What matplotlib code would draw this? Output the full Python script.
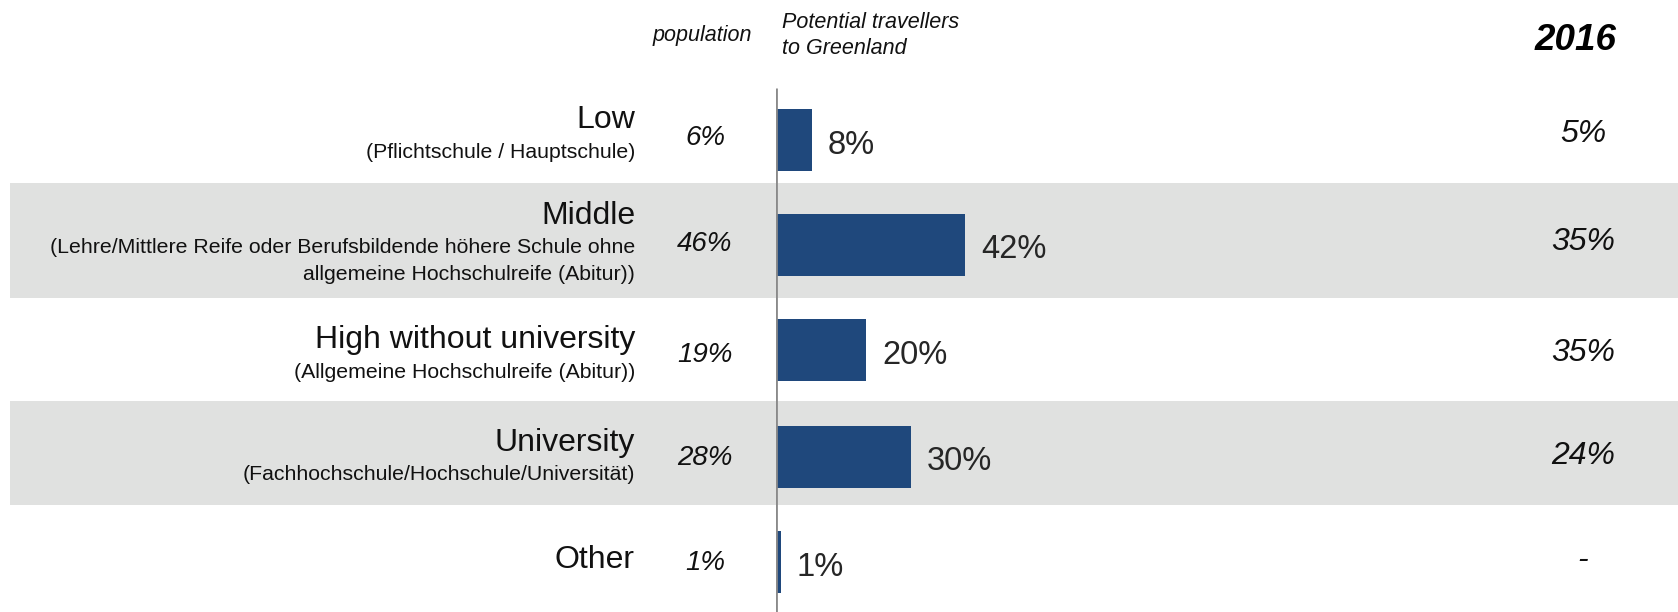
import matplotlib
matplotlib.use("Agg")
import matplotlib.pyplot as plt

plt.rcParams["font.family"] = ["Liberation Sans", "DejaVu Sans"]

# Education levels and their shares
categories = ["Low", "Middle", "High without university", "University", "Other"]
subtitles = [
    "(Pflichtschule / Hauptschule)",
    "(Lehre/Mittlere Reife oder Berufsbildende höhere Schule ohne\nallgemeine Hochschulreife (Abitur))",
    "(Allgemeine Hochschulreife (Abitur))",
    "(Fachhochschule/Hochschule/Universität)",
    "",
]
population = [6, 46, 19, 28, 1]
travellers = [8, 42, 20, 30, 1]
year_2016 = ["5%", "35%", "35%", "24%", "-"]

W, H = 1678, 612
BAR_COLOR = "#1F487C"
BAND_COLOR = "#E0E1E0"

# Row layout (pixel rows from the top of the figure)
row_edges = [79, 183, 298, 401, 505, 612]
bar_centers = [140, 245, 350, 457, 562]
name_y = [120, 216, 340, 443, 560]
sub_y = [153, 261, 372, 474, None]
pop_y = [138, 244, 355, 458, 563]
col_y = [134, 242, 353, 456, 560]
px_per_pct = 4.5
axis_x = 776

fig = plt.figure(figsize=(W / 100, H / 100), dpi=100)

# Layer for backgrounds and text, in pixel coordinates
lay = fig.add_axes([0, 0, 1, 1])
lay.set_xlim(0, W)
lay.set_ylim(H, 0)
lay.axis("off")

# Bar layer, x in percent
ax = fig.add_axes([axis_x / W, 0, (W - axis_x) / W, 1])
ax.set_xlim(0, (W - axis_x) / px_per_pct)
ax.set_ylim(H, 0)
ax.axis("off")
ax.patch.set_alpha(0)

# Alternating shaded bands
for i in (1, 3):
    lay.axhspan(row_edges[i], row_edges[i + 1], xmin=10 / W, xmax=1, color=BAND_COLOR, lw=0, zorder=0)

# Column headers
lay.text(702, 35, "population", fontsize=15.5, style="italic", ha="center", va="center", color="#111111")
lay.text(782, 22, "Potential travellers", fontsize=15.5, style="italic", ha="left", va="center", color="#111111")
lay.text(782, 48, "to Greenland", fontsize=15.5, style="italic", ha="left", va="center", color="#111111")
lay.text(1576, 41, "2016", fontsize=26.5, style="italic", weight="bold", ha="center", va="center", color="black")

# Row labels and side columns
for i, name in enumerate(categories):
    lay.text(635, name_y[i], name, fontsize=23, ha="right", va="center", color="#111111")
    if subtitles[i]:
        lay.text(635, sub_y[i], subtitles[i], fontsize=15.3, ha="right", va="center",
                 color="#111111", linespacing=1.5)
    lay.text(705, pop_y[i], f"{population[i]}%", fontsize=20, style="italic",
             ha="center", va="center", color="#111111")
    lay.text(1583, col_y[i], year_2016[i], fontsize=23, style="italic",
             ha="center", va="center", color="#111111")

# Bars and value labels
ax.barh(bar_centers, travellers, height=62, left=0, color=BAR_COLOR, zorder=2)
for yc, v in zip(bar_centers, travellers):
    ax.text(v + 16 / px_per_pct, yc + 5, f"{v}%", fontsize=23.5, ha="left", va="center", color="#262626")

# Baseline
ax.plot([0, 0], [88, H], color="#8a8a8a", lw=2, zorder=3, solid_capstyle="butt")

fig.savefig("out.png", dpi=100)
